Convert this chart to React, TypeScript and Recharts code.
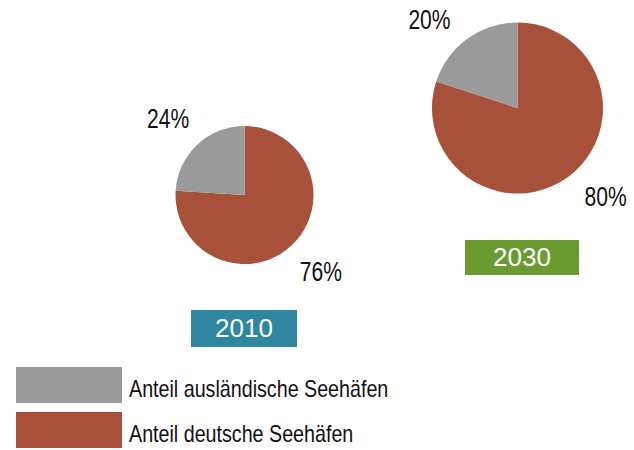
import React from 'react';
import { PieChart, Pie, Cell } from 'recharts';

const categories = ['Anteil deutsche Seehäfen', 'Anteil ausländische Seehäfen'];
const years = ['2010', '2030'];
const deutscheAnteil = [76, 80];
const auslaendischAnteil = [24, 20];

const COLORS = ['#a8513a', '#9a9a9a'];
const YEAR_COLORS = ['#2e86a0', '#6b9a2f'];
const FONT = '"Liberation Sans", Arial, sans-serif';
const NARROW_SCALE = 0.82;

const pieData = (i: number) => [
  { name: categories[0], value: deutscheAnteil[i] },
  { name: categories[1], value: auslaendischAnteil[i] },
];

const renderLabel = (props: any) => {
  const { cx, cy, midAngle, outerRadius, value } = props;
  const rad = (midAngle * Math.PI) / 180;
  const d = outerRadius + 39;
  const x = cx + Math.sign(Math.cos(rad)) * d * Math.SQRT1_2;
  const y = cy - Math.sign(Math.sin(rad)) * d * Math.SQRT1_2;
  return (
    <text
      x={0}
      y={0}
      transform={`translate(${x},${y}) scale(0.78,1)`}
      textAnchor="middle"
      dominantBaseline="central"
      fill="#111"
      fontSize={27}
      fontFamily={FONT}
    >
      {`${value}%`}
    </text>
  );
};

const pieLayout = [
  { cx: 244.5, cy: 195, r: 69 },
  { cx: 517.5, cy: 108, r: 85.5 },
];

const yearBoxes = [
  { left: 191, top: 310, width: 106, height: 37 },
  { left: 465, top: 240, width: 114, height: 35 },
];

export default function App() {
  return (
    <div style={{ position: 'absolute', left: 0, top: 0, width: 634, height: 450, background: '#fff', overflow: 'hidden' }}>
      <PieChart width={634} height={450} margin={{ top: 0, right: 0, bottom: 0, left: 0 }}>
        {years.map((y, i) => (
          <Pie
            key={y}
            data={pieData(i)}
            dataKey="value"
            nameKey="name"
            cx={pieLayout[i].cx}
            cy={pieLayout[i].cy}
            outerRadius={pieLayout[i].r}
            startAngle={90}
            endAngle={-270}
            stroke="none"
            label={renderLabel}
            labelLine={false}
            isAnimationActive={false}
          >
            {pieData(i).map((d, j) => (
              <Cell key={d.name} fill={COLORS[j]} />
            ))}
          </Pie>
        ))}
      </PieChart>
      {years.map((y, i) => (
        <div
          key={y}
          style={{
            position: 'absolute',
            left: yearBoxes[i].left,
            top: yearBoxes[i].top,
            width: yearBoxes[i].width,
            height: yearBoxes[i].height,
            background: YEAR_COLORS[i],
            color: '#fff',
            fontFamily: FONT,
            fontSize: 26,
            display: 'flex',
            alignItems: 'center',
            justifyContent: 'center',
          }}
        >
          {y}
        </div>
      ))}
      {[1, 0].map((j, k) => (
        <div key={categories[j]} style={{ position: 'absolute', left: 16, top: 367 + k * 45, height: 36, display: 'flex', alignItems: 'center' }}>
          <div style={{ width: 106, height: 36, background: COLORS[j], flex: 'none' }} />
          <div
            style={{
              marginLeft: 7,
              fontFamily: FONT,
              fontSize: 24,
              color: '#111',
              position: 'relative',
              top: 4,
              whiteSpace: 'nowrap',
              transform: `scaleX(${NARROW_SCALE})`,
              transformOrigin: 'left center',
            }}
          >
            {categories[j]}
          </div>
        </div>
      ))}
    </div>
  );
}
